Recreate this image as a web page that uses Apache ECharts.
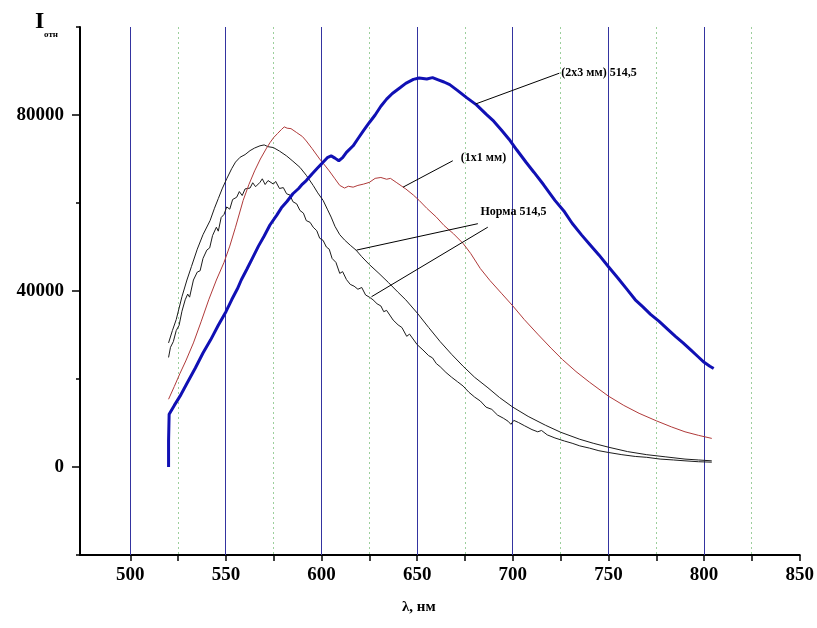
<!DOCTYPE html>
<html>
<head>
<meta charset="utf-8">
<script src="https://cdn.jsdelivr.net/npm/echarts@6/dist/echarts.min.js"></script>
<style>
html, body { margin: 0; padding: 0; background: #fff; }
#chart { width: 817px; height: 628px; }
</style>
</head>
<body>
<div id="chart"></div>
<script>
// tick values
const xMajor = [500, 550, 600, 650, 700, 750, 800, 850];
const xMinor = [525, 575, 625, 675, 725, 775, 825];
const xBlueLines = [500, 550, 600, 650, 700, 750, 800];
const yLabels = [0, 40000, 80000];
const yMinor = [-20000, 20000, 60000, 100000];

// (2x3 мм) 514,5 - thick blue
const blue2x3 = [
  [520,0],[520,5900],[520.3,12000],[523,14000],[526,16100],[530,19300],[534,22500],[538,25900],
  [542,28900],[546,32200],[550,35300],[553,38000],[556,40500],[558,42500],[561,45000],[564,47600],
  [567,50200],[570,52500],[573,55000],[576.5,57200],[579,58900],[582,60400],[585,62100],[588,63300],
  [590,64300],[592,65100],[595,66600],[598,68000],[600,68900],[603,70300],[605,70700],[607,70200],
  [609,69600],[611,70300],[613,71500],[616.5,73000],[619,74600],[622,76500],[625,78300],[628,80000],
  [631,82000],[634,83600],[637,84900],[641,86200],[644,87200],[648,88100],[651,88400],[655,88200],
  [658,88500],[661,88000],[664,87500],[667,86900],[671,85600],[676,83900],[681,82300],[686,80200],
  [690,78600],[694,76600],[698,74500],[702,72100],[707,69200],[711,67000],[716,64200],[722,60600],
  [727,58000],[731,55400],[736,52700],[740,50700],[745,48200],[750,45500],[755,42900],[760,40200],
  [764,38000],[768,36400],[772,34700],[776.5,33100],[781,31300],[785,29700],[789,28200],[793,26600],
  [797,25000],[800,23800],[803,22900],[805,22400]
];

// (1x1 мм) - thin red
const red1x1 = [
  [520,15400],[523,18300],[526,21300],[529,24100],[533,28200],[537,33000],[541,38000],[545,42500],
  [549,46500],[552,50200],[555,54500],[559,60600],[562,64200],[565,67300],[568,70000],[571,72300],
  [573,73700],[575,74900],[577,75800],[579,76700],[580.5,77300],[582,77000],[584,76900],[587,76000],
  [590,75100],[592,74100],[595,72400],[599,70000],[602,68400],[604,67300],[607,65500],[609.5,64000],
  [612,63400],[614,63800],[616.5,63600],[619,64000],[622,64300],[625,64700],[628,65600],[631,65800],
  [634,65400],[636,65600],[639,64700],[642,63800],[644,63200],[648,61800],[651,60600],[655,58800],
  [660,56800],[664,54900],[669,53000],[674,50800],[678,48500],[683,45100],[688,42400],[694,39500],
  [700,36600],[706,33500],[713,30200],[720,27000],[726,24400],[733,21700],[740,19300],[750,16100],
  [758,14000],[766,12200],[775,10500],[783,9100],[790,8000],[797,7200],[804,6500]
];

// Норма 514,5 - upper black
const normaUpper = [
  [520,28200],[522,31000],[524,33500],[527,38700],[529.6,42500],[532,45600],[535,49500],[538,52800],
  [541.7,56000],[544,58800],[546,61000],[548,63200],[550.4,65500],[553,67800],[555,69300],[557.4,70400],
  [560,71000],[562.6,71900],[565,72500],[567.8,73000],[570,73200],[572,72800],[574.8,72600],[578,71800],
  [581.7,70700],[585,69500],[588.7,68100],[592,66300],[595.6,64000],[598,62300],[600.8,60600],[603,58600],
  [605,56800],[607,54700],[609.5,52800],[612,51600],[615,50400],[618,49300],[621,47800],[625,46000],
  [630,44000],[635,41900],[640,39700],[644,38000],[650,35000],[656,31700],[662,28500],[668,25600],
  [674,22900],[680,20400],[687,18000],[693,15800],[700,13600],[708,11500],[717,9500],[725,7900],
  [735,6300],[742,5400],[750,4500],[760,3500],[770,2800],[780,2300],[790,1800],[797,1600],[804,1400]
];

// Норма 514,5 - lower black (noisy)
const normaLower = [
  [520,24900],[521,27200],[522.5,28500],[524,31000],[525.5,32200],[527,35400],[528.7,38000],[530,39300],
  [531,38600],[533,42500],[535,44300],[536.5,44600],[538,47400],[540,49300],[541.5,49800],[543,52600],
  [545,54500],[546,53600],[547.5,56700],[549,57400],[550.4,59100],[552,58600],[553.5,60800],[555.6,61300],
  [557,62600],[558.5,61700],[560,63200],[562.6,63400],[564,64600],[565.5,63700],[567.8,64700],[569,65500],
  [570.5,64200],[572,65100],[574.8,64300],[576,64900],[578,63300],[580,63500],[581.7,62100],[583.5,61800],
  [585,60300],[587,59800],[588.7,58300],[590.5,57700],[592,56000],[594,55600],[595.6,54500],[597.5,53700],
  [599,52000],[600.8,51500],[602.5,50000],[604,49500],[605.5,47400],[607.5,46500],[609.5,44000],[611,44400],
  [613,42600],[615,41500],[617,41100],[619,40400],[621,40800],[623,39100],[625,38600],[626.9,38000],
  [629,37100],[631,36600],[632.5,35300],[634,35600],[637.4,33400],[640,32300],[642,31700],[644.5,29700],
  [646,30200],[650,27800],[653,26600],[656,25300],[658,24800],[660,23500],[662,22800],[665,21500],
  [668,20400],[671,19400],[674,18400],[677,17000],[680,15900],[683,15000],[686,13600],[689,13100],
  [692,11800],[695,11100],[697.5,10400],[699,9700],[700.5,10600],[703,10100],[706,9400],[710,8500],
  [713,8000],[715,8300],[718,7300],[722,6600],[727,5900],[731,5400],[735,4800],[740,4300],[745,3700],
  [750,3300],[757,2800],[764,2400],[770,2200],[777,1800],[784,1600],[790,1400],[797,1200],[804,1100]
];

const serif = '"Liberation Serif", "DejaVu Serif", serif';
const annFont = { color: '#000', fontFamily: serif, fontWeight: 'bold', fontSize: 12 };
const yMin = -20000, yMax = 100000;
// 1.92 px per nm, 500 nm sits on a pixel centre (x = 130.5) so 1px grid lines stay crisp
const pxPerNm = 1.92;
const xMin = 500 - 50.5 / pxPerNm;

let myChart = echarts.init(document.getElementById('chart'));

// vertical grid lines through a custom series, positions come from api.coord
function gridSeries(name, values, style) {
  return {
    name: name,
    type: 'custom',
    silent: true,
    z: 1,
    data: values,
    encode: { x: 0 },
    renderItem: function (params, api) {
      const top = api.coord([api.value(0), yMax]);
      const bottom = api.coord([api.value(0), yMin]);
      const x = Math.round(top[0] - 0.5) + 0.5;
      return {
        type: 'line',
        shape: { x1: x, y1: top[1], x2: x, y2: bottom[1] },
        style: Object.assign({ fill: null }, style)
      };
    }
  };
}

let option = {
  animation: false,
  backgroundColor: '#fff',
  grid: { left: 80, right: 14.5, top: 27, bottom: 73 },
  graphic: [
    { type: 'text', left: 35, top: 10, style: { text: 'I', font: 'bold 24px ' + serif, fill: '#000' } },
    { type: 'text', left: 44, top: 30, style: { text: 'отн', font: 'bold 9px ' + serif, fill: '#000' } },
    { type: 'text', left: 402, top: 600, style: { text: 'λ, нм', font: 'bold 15px ' + serif, fill: '#000' } }
  ],
  xAxis: {
    type: 'value',
    min: xMin,
    max: 850,
    axisLine: { onZero: false, lineStyle: { color: '#000', width: 2 } },
    axisTick: { customValues: xMajor.concat(xMinor).sort((a, b) => a - b), length: 6, lineStyle: { color: '#000', width: 1.5 } },
    axisLabel: {
      customValues: xMajor,
      margin: 11,
      color: '#000', fontFamily: serif, fontWeight: 'bold', fontSize: 19
    },
    splitLine: { show: false }
  },
  yAxis: [
    {
      type: 'value',
      min: yMin,
      max: yMax,
      axisLine: { show: true, onZero: false, lineStyle: { color: '#000', width: 2 } },
      axisTick: { customValues: yLabels, length: 8, lineStyle: { color: '#000', width: 1.5 } },
      axisLabel: {
        customValues: yLabels,
        formatter: (v) => String(v),
        margin: 16,
        color: '#000', fontFamily: serif, fontWeight: 'bold', fontSize: 19
      },
      splitLine: { show: false }
    },
    {
      type: 'value',
      min: yMin,
      max: yMax,
      position: 'left',
      axisLine: { show: false, onZero: false },
      axisTick: { show: true, customValues: yMinor, length: 4, lineStyle: { color: '#000', width: 1.5 } },
      axisLabel: { show: false },
      splitLine: { show: false }
    }
  ],
  series: [
    gridSeries('blue grid', xBlueLines, { stroke: '#3434a0', lineWidth: 1 }),
    gridSeries('green grid', xMinor, { stroke: '#9ccf9c', lineWidth: 1, lineDash: [2, 3] }),
    {
      name: 'Норма 514,5 (верх)',
      type: 'line',
      data: normaUpper,
      showSymbol: false,
      color: '#1c1c1c',
      lineStyle: { color: '#1c1c1c', width: 1 },
      z: 3,
      markLine: {
        silent: true,
        symbol: 'none',
        label: { show: false },
        lineStyle: { color: '#000', width: 1, type: 'solid' },
        data: [
          [{ coord: [618.3, 49300] }, { coord: [681.7, 55300] }],
          [{ coord: [626.1, 38700] }, { coord: [686.9, 54500] }]
        ]
      },
      markPoint: {
        symbol: 'circle',
        symbolSize: 0,
        label: Object.assign({ show: true, position: 'right', distance: 0, formatter: 'Норма 514,5' }, annFont),
        data: [{ coord: [683.1, 57900] }]
      }
    },
    {
      name: 'Норма 514,5 (низ)',
      type: 'line',
      data: normaLower,
      showSymbol: false,
      color: '#1c1c1c',
      lineStyle: { color: '#1c1c1c', width: 1 },
      z: 3
    },
    {
      name: '(1x1 мм)',
      type: 'line',
      data: red1x1,
      showSymbol: false,
      color: '#b03a3a',
      lineStyle: { color: '#b03a3a', width: 1 },
      z: 3,
      markLine: {
        silent: true,
        symbol: 'none',
        label: { show: false },
        lineStyle: { color: '#000', width: 1, type: 'solid' },
        data: [[{ coord: [642.6, 63600] }, { coord: [668.6, 69600] }]]
      },
      markPoint: {
        symbol: 'circle',
        symbolSize: 0,
        label: Object.assign({ show: true, position: 'right', distance: 8, formatter: '(1x1 мм)' }, annFont),
        data: [{ coord: [668.6, 70300] }]
      }
    },
    {
      name: '(2x3 мм) 514,5',
      type: 'line',
      data: blue2x3,
      showSymbol: false,
      color: '#1010b4',
      lineStyle: { color: '#1010b4', width: 3 },
      z: 4,
      markLine: {
        silent: true,
        symbol: 'none',
        label: { show: false },
        lineStyle: { color: '#000', width: 1, type: 'solid' },
        data: [[{ coord: [680.5, 82500] }, { coord: [724.3, 89500] }]]
      },
      markPoint: {
        symbol: 'circle',
        symbolSize: 0,
        label: Object.assign({ show: true, position: 'right', distance: 2, formatter: '(2x3 мм) 514,5' }, annFont),
        data: [{ coord: [724.3, 89500] }]
      }
    }
  ]
};

myChart.setOption(option);
</script>
</body>
</html>
